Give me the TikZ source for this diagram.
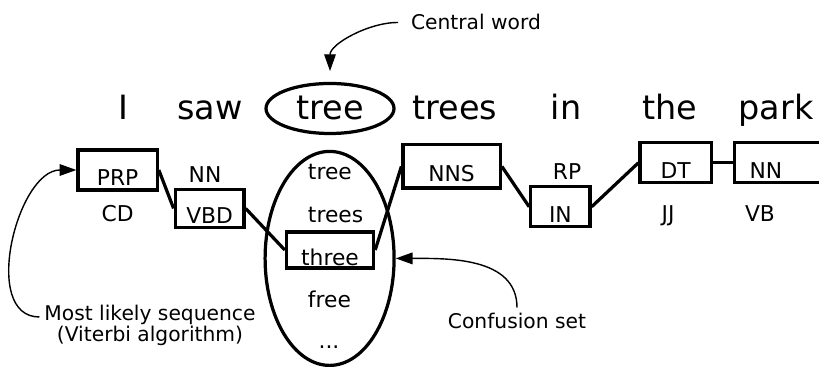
\documentclass[tikz,border=0pt]{standalone}
\usepackage{fontspec}
\setmainfont{DejaVu Sans}
\usetikzlibrary{arrows.meta, shapes.geometric}

\begin{document}
\begin{tikzpicture}[
  word/.style={anchor=base, font=\fontsize{23.8}{26}\selectfont},
  tag/.style={anchor=base, font=\fontsize{15.5}{17}\selectfont},
  tagbox/.style={draw, line width=2.3pt, inner sep=0pt, text height=0.78cm, text depth=0pt,
                 font=\fontsize{15.5}{17}\selectfont},
  note/.style={font=\fontsize{14.4}{12.8}\selectfont, align=center},
  link/.style={line width=2.3pt},
  pointer/.style={line width=1pt, -{Triangle[length=0.42cm, width=0.29cm]}},
]

\clip (0, 0) rectangle (20.475, 9.15);

\node[word] (w1) at (3.075, 6.15) {I};
\node[word] (w2) at (5.250, 6.15) {saw};
\node[word, ellipse, draw, line width=2.3pt, inner sep=0pt,
      minimum width=3.2cm, minimum height=1.25cm] (w3) at (8.250, 6.15) {tree};
\node[word] (w4) at (11.375, 6.15) {trees};
\node[word] (w5) at (14.150, 6.15) {in};
\node[word] (w6) at (16.750, 6.15) {the};
\node[word] (w7) at (19.400, 6.15) {park};

\node[note, anchor=base] (central) at (11.9, 8.4) {Central word};

\node[ellipse, draw, line width=2.3pt, minimum width=3.225cm, minimum height=5.35cm] (conf) at (8.24, 2.69) {};
\node[tag, anchor=base west] (c1) at (7.575, 4.650) {tree};
\node[tag, anchor=base west] (c2) at (7.575, 3.575) {trees};
\node[tagbox, minimum width=2.18cm, minimum height=0.9cm] (three) at (8.250, 2.900) {three};
\node[tag, anchor=base west] (c4) at (7.575, 1.475) {free};
\node[tag] (c5) at (8.225, 0.450) {...};

\node[tagbox, minimum width=1.98cm, minimum height=1.00cm] (prp) at (2.94, 4.90) {PRP};
\node[tagbox, minimum width=1.72cm, minimum height=0.95cm] (vbd) at (5.24, 3.94) {VBD};
\node[tagbox, minimum width=2.43cm, minimum height=1.08cm] (nns) at (11.29, 4.99) {NNS};
\node[tagbox, minimum width=1.48cm, minimum height=1.00cm] (inb) at (14.01, 3.98) {IN};
\node[tagbox, minimum width=1.78cm, minimum height=1.00cm] (dt) at (16.89, 5.08) {DT};
\node[tagbox, minimum height=1.00cm, anchor=west, text width=1.6cm, align=left,
      inner xsep=0.375cm] (nnb) at (18.325, 5.08) {NN};

\node[tag] (nn) at (5.125, 4.575) {NN};
\node[tag] (cd) at (2.940, 3.600) {CD};
\node[tag] (rp) at (14.175, 4.650) {RP};
\node[tag] (jj) at (16.700, 3.600) {JJ};
\node[tag] (vb) at (19.000, 3.600) {VB};

\draw[link] (prp.east) -- (vbd.west);
\draw[link] (vbd.east) -- (three.west);
\draw[link] (three.east) -- (nns.west);
\draw[link] (nns.east) -- (inb.west);
\draw[link] (inb.east) -- (dt.west);
\draw[link] (dt.east) -- (nnb.west);

\node[note] (viterbi) at (3.75, 1.025) {Most likely sequence\\(Viterbi algorithm)};
\node[note, anchor=base] (confusion) at (12.925, 0.95) {Confusion set};

\draw[pointer, shorten <=0.2cm, shorten >=0.27cm] (central.west) to[out=180, in=90] (w3.north);
\draw[pointer] ([yshift=0.2cm]viterbi.west) to[out=180, in=180] (prp.west);
\draw[pointer] (confusion.north) to[out=90, in=0] (conf.east);

\end{tikzpicture}
\end{document}
